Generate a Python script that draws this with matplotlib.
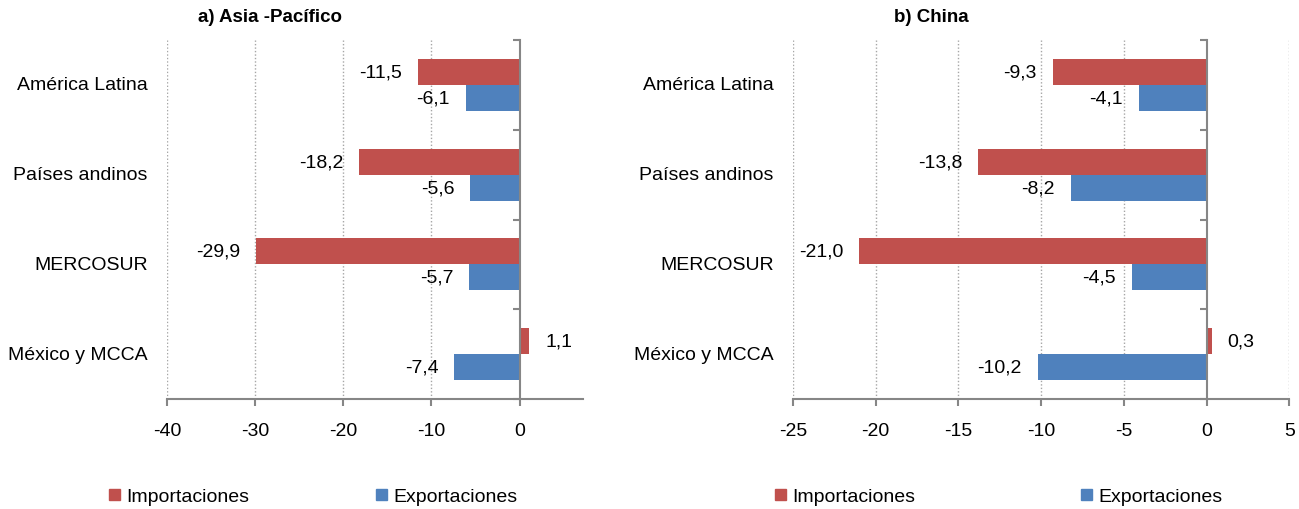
import numpy as np
import matplotlib.pyplot as plt
from matplotlib.patches import Patch
from matplotlib.transforms import blended_transform_factory

plt.rcParams['font.family'] = ['Liberation Sans', 'DejaVu Sans']

# data
categories = ['América Latina', 'Países andinos', 'MERCOSUR', 'México y MCCA']
asia_imp = [-11.5, -18.2, -29.9, 1.1]
asia_exp = [-6.1, -5.6, -5.7, -7.4]
china_imp = [-9.3, -13.8, -21.0, 0.3]
china_exp = [-4.1, -8.2, -4.5, -10.2]

titles = ['a) Asia -Pacífico', 'b) China']
xticks_list = [[-40, -30, -20, -10, 0], [-25, -20, -15, -10, -5, 0, 5]]
xlims = [(-40, 7.2), (-25, 5)]

red = '#C0504D'
blue = '#4F81BD'
axis_gray = '#868686'
fs = 14

W, H = 1299, 510
fig = plt.figure(figsize=(W / 100, H / 100), dpi=100)

# axes boxes in pixels: left, right, top, bottom
boxes = [(167, 583, 41, 400), (793, 1289.3, 41, 400)]
title_x = [270, 931]
legend_x = [(109, 376), (775, 1081)]

panels = [(asia_imp, asia_exp), (china_imp, china_exp)]

ypos = np.arange(len(categories))
bh = 0.29
off = 0.145


def fmt(v):
    return f'{v:.1f}'.replace('.', ',')


for k, (imp, exp) in enumerate(panels):
    l, r, t, b = boxes[k]
    ax = fig.add_axes([l / W, 1 - b / H, (r - l) / W, (b - t) / H])
    ax.barh(ypos - off, imp, height=bh, color=red, zorder=3)
    ax.barh(ypos + off, exp, height=bh, color=blue, zorder=3)

    for vals, dy in ((imp, -off), (exp, off)):
        for y, v in zip(ypos, vals):
            if v < 0:
                ax.annotate(fmt(v), (v, y + dy), xytext=(-11.5, 0), textcoords='offset points',
                            ha='right', va='center', fontsize=fs)
            else:
                ax.annotate(fmt(v), (v, y + dy), xytext=(11.5, 0), textcoords='offset points',
                            ha='left', va='center', fontsize=fs)

    ax.set_xlim(*xlims[k])
    ax.set_ylim(len(categories) - 0.5, -0.5)
    ax.set_xticks(xticks_list[k])
    ax.set_xticklabels([str(v) for v in xticks_list[k]], fontsize=fs)
    ax.set_yticks(np.arange(-0.5, len(categories), 1.0))
    ax.set_yticklabels([])

    for xv in xticks_list[k]:
        if xv != 0:
            ax.axvline(xv, color='#a6a6a6', linestyle=(0, (1, 1.5)), linewidth=1, zorder=1)

    for s in ('top', 'right'):
        ax.spines[s].set_visible(False)
    ax.spines['left'].set_position(('data', 0))
    ax.spines['left'].set_color(axis_gray)
    ax.spines['bottom'].set_color(axis_gray)
    ax.spines['left'].set_linewidth(1.5)
    ax.spines['bottom'].set_linewidth(1.5)
    ax.spines['left'].set_zorder(4)
    ax.tick_params(axis='x', direction='out', length=5, width=1.5, color=axis_gray, pad=11.5)
    ax.tick_params(axis='y', direction='out', length=5, width=1.5, color=axis_gray)

    trans = blended_transform_factory(ax.transAxes, ax.transData)
    for y, c in zip(ypos, categories):
        ax.annotate(c, (0, y), xycoords=trans, xytext=(-14, 0), textcoords='offset points',
                    ha='right', va='center', fontsize=fs)

    fig.text(title_x[k] / W, 1 - 18 / H, titles[k], ha='center', va='center',
             fontsize=13.5, fontweight='bold')

    for px, lab, col in zip(legend_x[k], ['Importaciones', 'Exportaciones'], [red, blue]):
        fig.legend(handles=[Patch(color=col, label=lab)], loc='center left',
                   bbox_to_anchor=(px / W, 1 - 498 / H), frameon=False, fontsize=fs,
                   borderpad=0, borderaxespad=0, handlelength=0.55, handleheight=0.55,
                   handletextpad=0.35)

fig.savefig('out.png', dpi=100)
